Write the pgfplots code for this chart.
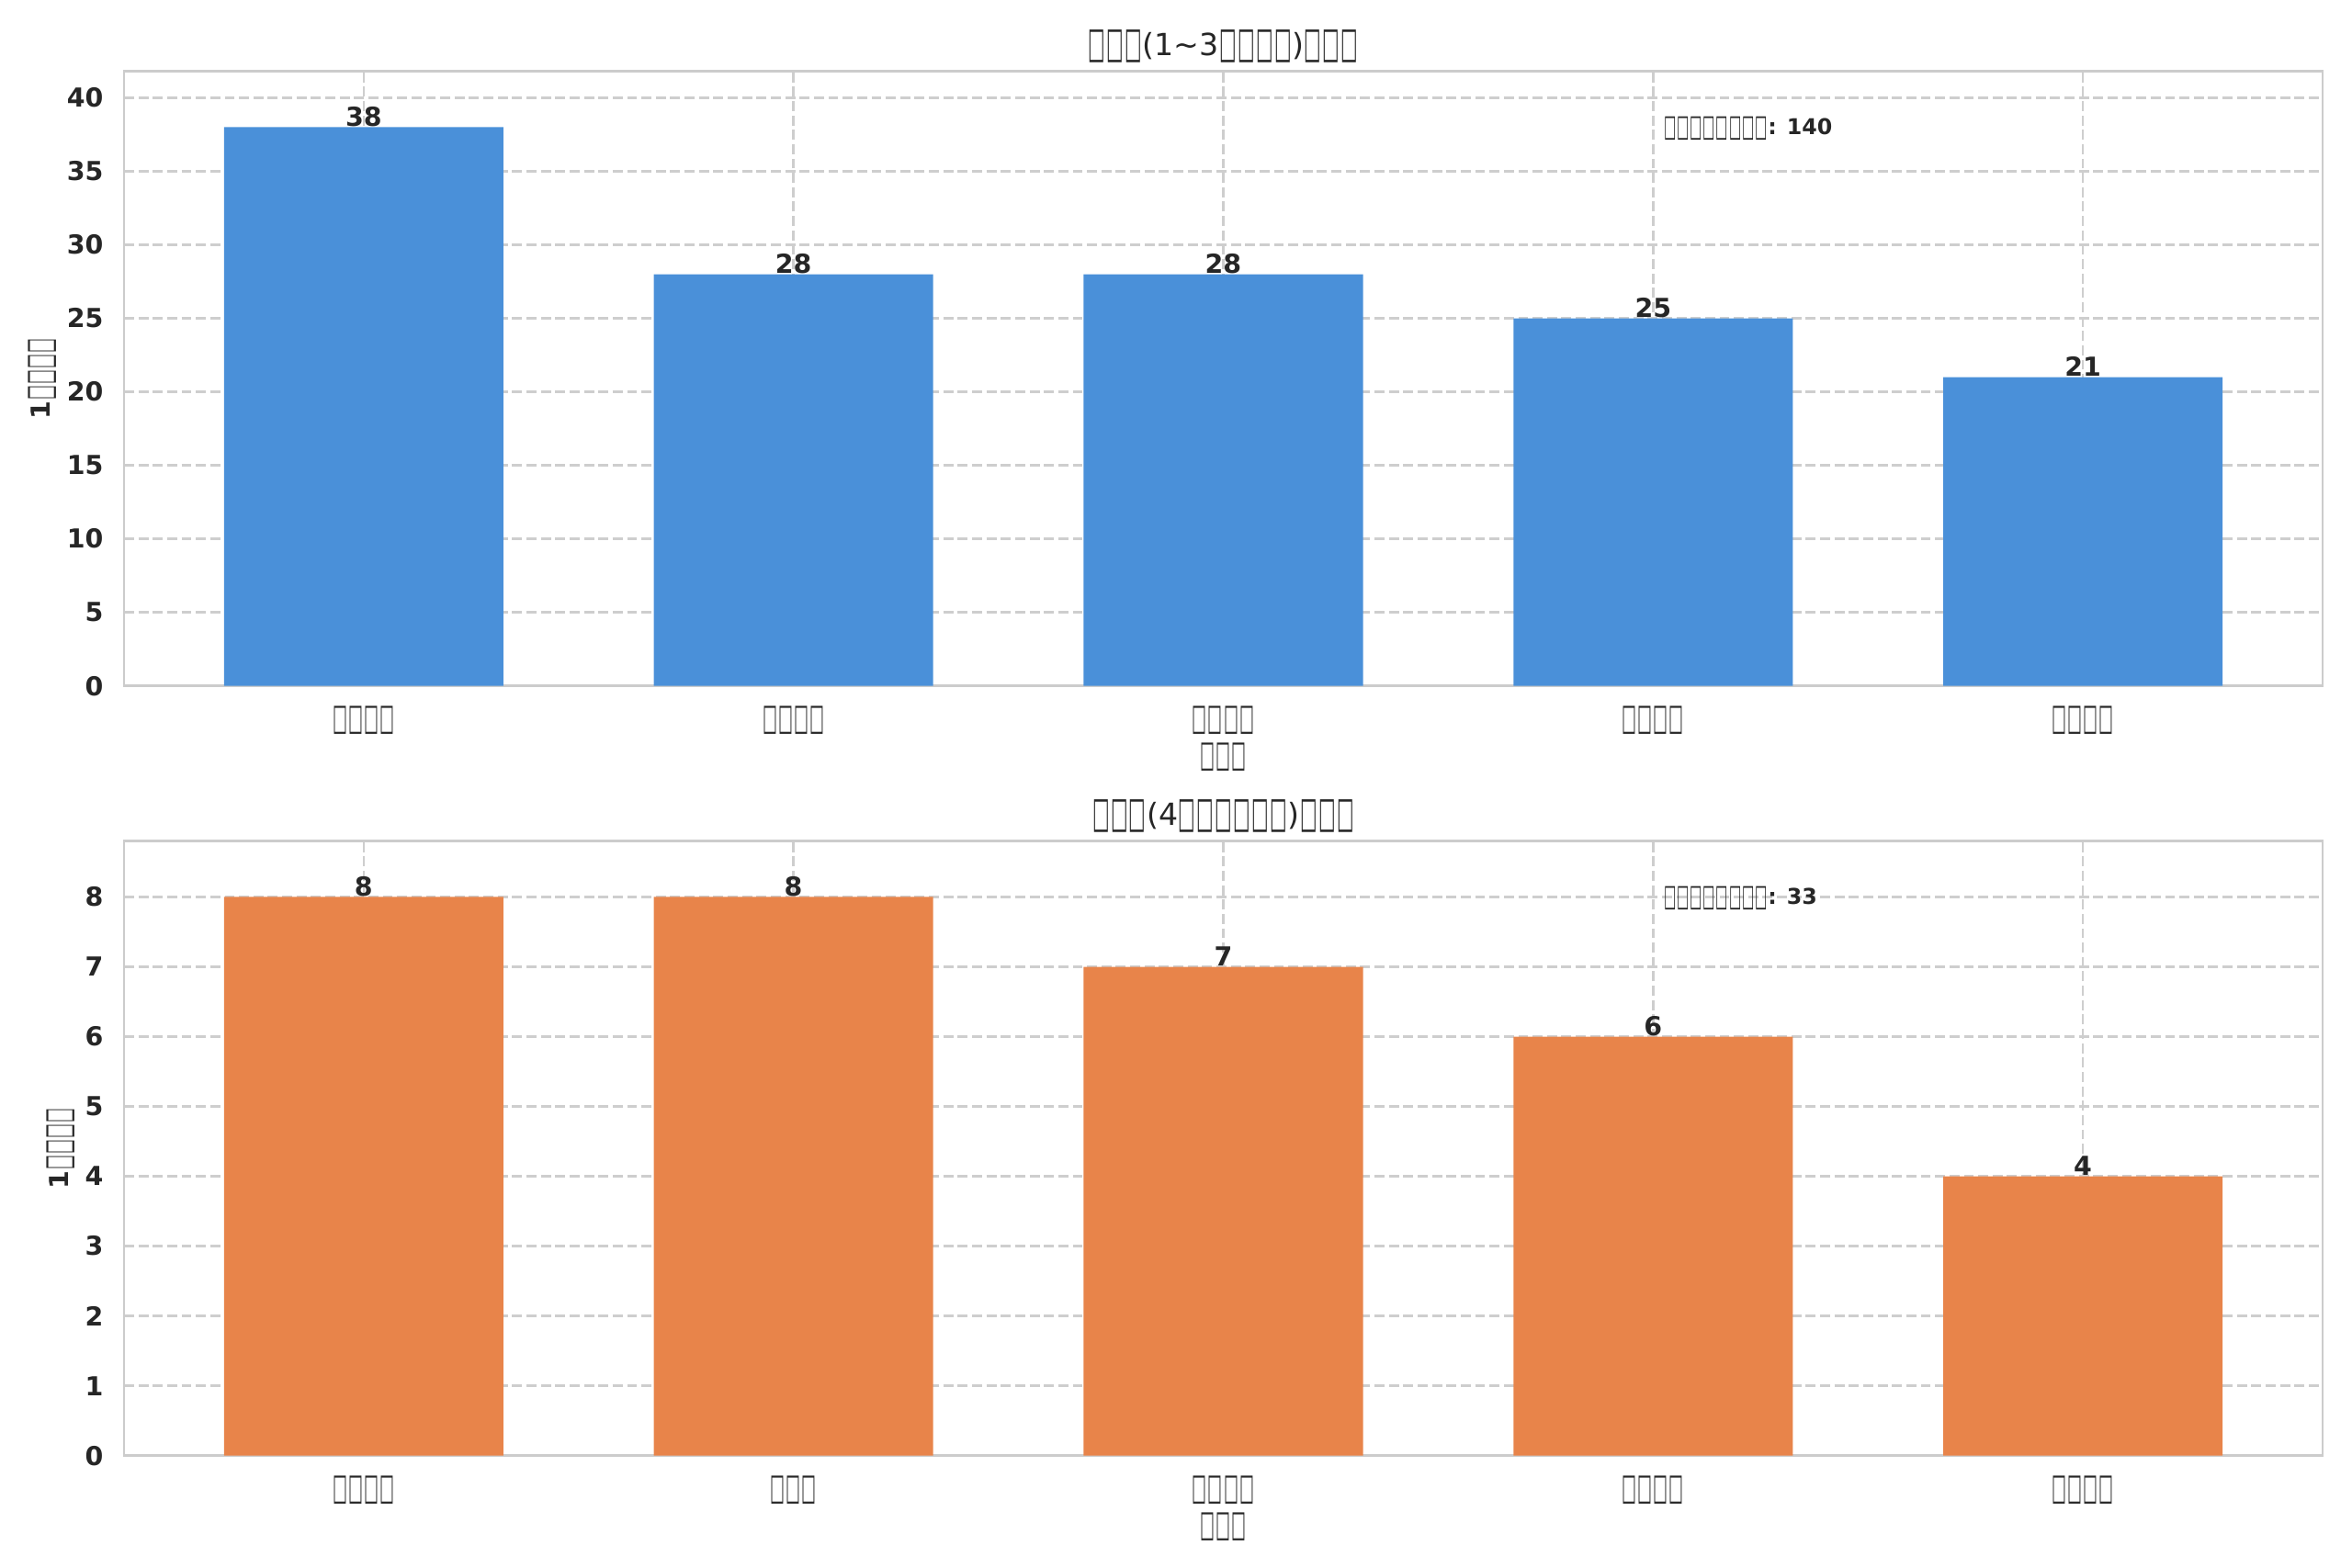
\documentclass[border=0pt]{standalone}
\usepackage{fontspec}
\setmainfont{DejaVu Sans}
\usepackage{graphicx}
\usepackage{pgfplots}
\pgfplotsset{compat=1.18}

\definecolor{barblue}{RGB}{74,144,217}
\definecolor{barorange}{RGB}{232,132,74}
\definecolor{gridc}{RGB}{206,206,206}
\definecolor{spinec}{RGB}{204,204,204}
\definecolor{txt}{RGB}{38,38,38}

% missing-glyph box as it appears in the reference
\newcommand{\T}{\makebox[0.6em]{\raisebox{-0.07em}{\resizebox{0.56em}{0.9em}{□}}}}

\pgfplotsset{
  mybars/.style={
    scale only axis, width=1009.55bp, height=282.23bp,
    anchor=south west,
    xmin=-0.5575, xmax=4.5575, ymin=0,
    xtick={0,1,2,3,4},
    ybar, bar width=0.65,
    axis line style={draw=spinec, line width=1.1bp},
    grid=major,
    major grid style={draw=gridc, line width=1.1bp, dash pattern=on 4.6bp off 2bp},
    major tick length=0pt,
    tick style={draw=none},
    /pgf/number format/assume math mode=true,
    yticklabel style={font=\fontsize{12bp}{14bp}\selectfont\bfseries, text=txt, inner sep=0pt, xshift=-9.3bp},
    xticklabel style={font=\fontsize{12bp}{14bp}\selectfont, text=txt, inner sep=0pt, anchor=base, yshift=-19.4bp},
    every axis x label/.style={at={(axis description cs:0.5,0)}, anchor=base, yshift=-36.3bp, inner sep=0pt, font=\fontsize{12bp}{14bp}\selectfont, text=txt},
    every axis title/.style={at={(axis description cs:0.5,1)}, anchor=base, yshift=7.2bp, inner sep=0pt, font=\fontsize{14bp}{17bp}\selectfont, text=txt},
    nodes near coords,
    every node near coord/.append style={font=\fontsize{12bp}{14bp}\selectfont\bfseries, text=txt, anchor=base, inner sep=0pt, yshift=0.5bp},
  }
}

\begin{document}
\begin{tikzpicture}
\useasboundingbox (0,0) rectangle (1080bp,720bp);

% ---------- top panel ----------
\begin{axis}[mybars,
  at={(56.95bp,405bp)},
  ymax=41.8, ytick={0,5,...,40},
  xticklabels={\T\T\T\T,\T\T\T\T,\T\T\T\T,\T\T\T\T,\T\T\T\T},
  xlabel={\T\T\T},
  ylabel={\bfseries 1\T\T\T\T},
  every axis y label/.style={at={(axis description cs:0,0.5)}, xshift=-30.8bp, rotate=90, anchor=south, inner sep=0pt, font=\fontsize{12bp}{14bp}\selectfont, text=txt},
  title={\T\T\T(1\textasciitilde 3\T\T\T\T)\T\T\T},
]
\addplot[fill=barblue, draw=none] coordinates {(0,38) (1,28) (2,28) (3,25) (4,21)};
\node[anchor=base west, inner sep=0pt, text=txt, font=\fontsize{10bp}{12bp}\selectfont\bfseries] at (rel axis cs:0.7,0.897) {\T\T\T\T\T\T\T\T: 140};
\end{axis}

% ---------- bottom panel ----------
\begin{axis}[mybars,
  at={(56.95bp,51.47bp)},
  ymax=8.8, ytick={0,1,...,8},
  xticklabels={\T\T\T\T,\T\T\T,\T\T\T\T,\T\T\T\T,\T\T\T\T},
  xlabel={\T\T\T},
  ylabel={\bfseries 1\T\T\T\T},
  every axis y label/.style={at={(axis description cs:0,0.5)}, xshift=-22.4bp, rotate=90, anchor=south, inner sep=0pt, font=\fontsize{12bp}{14bp}\selectfont, text=txt},
  title={\T\T\T(4\T\T\T\T\T\T)\T\T\T},
]
\addplot[fill=barorange, draw=none] coordinates {(0,8) (1,8) (2,7) (3,6) (4,4)};
\node[anchor=base west, inner sep=0pt, text=txt, font=\fontsize{10bp}{12bp}\selectfont\bfseries] at (rel axis cs:0.7,0.897) {\T\T\T\T\T\T\T\T: 33};
\end{axis}
\end{tikzpicture}
\end{document}
